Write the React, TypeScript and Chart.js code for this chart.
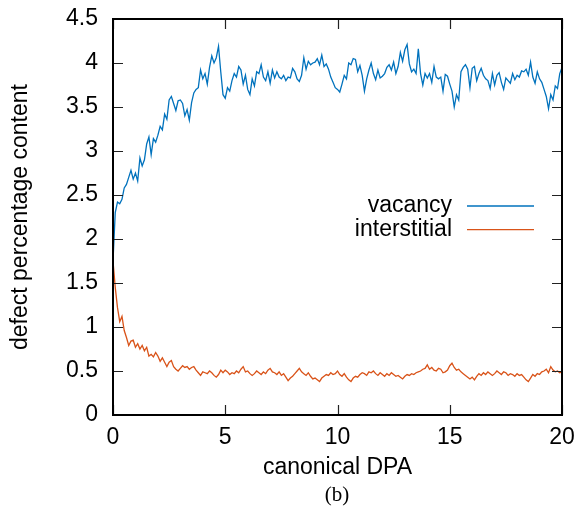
import React, { useEffect, useRef } from "react";
import { Chart, registerables } from "chart.js";

Chart.register(...registerables);

// sampling interval of the simulation output (canonical DPA)
const DPA_STEP = 0.1;

const SERIES_LABELS = ["vacancy", "interstitial"];
const SERIES_COLORS = ["#0072bd", "#d95319"];

const vacancy = [
  1.75, 2.30, 2.42, 2.40, 2.45, 2.58, 2.62, 2.70, 2.78, 2.68,
  2.75, 2.66, 2.92, 2.83, 2.90, 3.08, 3.16, 2.96, 3.14, 3.10,
  3.18, 3.28, 3.24, 3.42, 3.36, 3.58, 3.62, 3.54, 3.46, 3.57,
  3.58, 3.54, 3.40, 3.47, 3.35, 3.55, 3.66, 3.70, 3.72, 3.92,
  3.82, 3.88, 3.76, 3.95, 4.08, 4.00, 4.06, 4.19, 3.90, 3.64,
  3.60, 3.72, 3.68, 3.80, 3.88, 3.84, 3.96, 3.92, 3.76, 3.86,
  3.70, 3.64, 3.82, 3.74, 3.90, 3.88, 3.98, 3.84, 3.80, 3.90,
  3.77, 3.92, 3.83, 3.90, 3.84, 3.82, 3.86, 3.80, 3.84, 3.83,
  3.94, 3.90, 3.82, 3.79, 3.86, 4.06, 3.93, 4.02, 3.98, 4.00,
  4.01, 4.05, 3.98, 4.09, 3.96, 3.99, 3.93, 3.84, 3.78, 3.72,
  3.70, 3.67, 3.76, 3.86, 3.82, 4.00, 3.98, 4.05, 4.04, 3.90,
  3.97, 3.86, 3.68, 3.82, 3.92, 4.00, 3.88, 3.81, 3.92, 3.83,
  3.85, 3.88, 3.95, 3.98, 3.92, 4.01, 3.88, 3.96, 4.12, 4.02,
  4.15, 4.21, 3.99, 3.90, 3.93, 3.88, 4.16, 3.88, 3.75, 3.88,
  3.83, 3.88, 3.78, 3.96, 3.84, 3.82, 3.84, 3.68, 3.87, 3.85,
  3.76, 3.68, 3.50, 3.64, 3.58, 3.90, 3.95, 3.98, 3.93, 3.72,
  3.94, 3.96, 3.80, 3.88, 3.94, 3.86, 3.82, 3.80, 3.71, 3.88,
  3.75, 3.86, 3.89, 3.78, 3.70, 3.83, 3.80, 3.77, 3.88, 3.81,
  3.86, 3.84, 3.91, 3.90, 3.93, 3.86, 4.01, 3.84, 3.77, 3.90,
  3.82, 3.78, 3.70, 3.62, 3.48, 3.64, 3.58, 3.74, 3.71, 3.88,
  3.95,
];

const interstitial = [
  1.75, 1.45, 1.22, 1.06, 1.12, 0.96, 0.88, 0.79, 0.84, 0.85,
  0.77, 0.81, 0.75, 0.79, 0.73, 0.77, 0.67, 0.69, 0.66, 0.71,
  0.67, 0.61, 0.65, 0.60, 0.55, 0.60, 0.62, 0.55, 0.52, 0.50,
  0.53, 0.56, 0.54, 0.55, 0.52, 0.54, 0.55, 0.51, 0.48, 0.45,
  0.49, 0.48, 0.47, 0.50, 0.48, 0.45, 0.43, 0.46, 0.51, 0.48,
  0.51, 0.49, 0.46, 0.48, 0.47, 0.50, 0.48, 0.52, 0.55, 0.49,
  0.50, 0.47, 0.45, 0.47, 0.50, 0.48, 0.46, 0.49, 0.47, 0.51,
  0.53, 0.49, 0.48, 0.46, 0.49, 0.45, 0.47, 0.43, 0.39, 0.42,
  0.44, 0.47, 0.50, 0.53, 0.49, 0.47, 0.45, 0.48, 0.44, 0.41,
  0.42, 0.40, 0.38, 0.42, 0.44, 0.46, 0.45, 0.48, 0.46, 0.47,
  0.50, 0.46, 0.44, 0.47, 0.43, 0.40, 0.38, 0.42, 0.44, 0.43,
  0.46, 0.48, 0.47, 0.45, 0.49, 0.48, 0.50, 0.47, 0.45, 0.48,
  0.46, 0.44, 0.47, 0.45, 0.48, 0.46, 0.44, 0.45, 0.43, 0.41,
  0.44, 0.46, 0.45, 0.47, 0.46, 0.48, 0.49, 0.50, 0.52, 0.53,
  0.57, 0.52, 0.54, 0.51, 0.50, 0.53, 0.52, 0.48, 0.49, 0.51,
  0.56, 0.59, 0.54, 0.51, 0.52, 0.49, 0.47, 0.45, 0.43, 0.41,
  0.43, 0.40, 0.44, 0.47, 0.45, 0.48, 0.46, 0.49, 0.47, 0.45,
  0.47, 0.50, 0.48, 0.46, 0.49, 0.48, 0.45, 0.47, 0.46, 0.44,
  0.47, 0.45, 0.46, 0.43, 0.40, 0.38, 0.42, 0.46, 0.44, 0.47,
  0.46, 0.49, 0.50, 0.52, 0.48, 0.55, 0.51, 0.49, 0.50, 0.48,
  0.49,
];

const X_TICKS = [0, 5, 10, 15, 20];
const X_TICK_LABELS = ["0", "5", "10", "15", "20"];
const Y_TICKS = [0, 0.5, 1, 1.5, 2, 2.5, 3, 3.5, 4, 4.5];
const Y_TICK_LABELS = ["0", "0.5", "1", "1.5", "2", "2.5", "3", "3.5", "4", "4.5"];

const X_TITLE = "canonical DPA";
const Y_TITLE = "defect percentage content";
const CAPTION = "(b)";

const FONT = '"Liberation Sans", Arial, Helvetica, sans-serif';
const FS = 23;

const toPoints = (arr: number[]) => arr.map((v, i) => ({ x: i * DPA_STEP, y: v }));

const zeroPad = (s: any) => {
  s.paddingTop = 0;
  s.paddingBottom = 0;
  s.paddingLeft = 0;
  s.paddingRight = 0;
};

const framePlugin = {
  id: "frame",
  afterDatasetsDraw(chart: any) {
    const { ctx, chartArea } = chart;
    const xs = chart.scales.x;
    const ys = chart.scales.y;
    const { left, right, top, bottom } = chartArea;
    const tl = 10;
    ctx.save();
    ctx.strokeStyle = "#222";
    ctx.lineWidth = 1.2;
    ctx.beginPath();
    X_TICKS.forEach((t) => {
      const px = Math.round(xs.getPixelForValue(t)) + 0.5;
      ctx.moveTo(px, bottom);
      ctx.lineTo(px, bottom - tl);
      ctx.moveTo(px, top);
      ctx.lineTo(px, top + tl);
    });
    Y_TICKS.forEach((t) => {
      const py = Math.round(ys.getPixelForValue(t)) + 0.5;
      ctx.moveTo(left, py);
      ctx.lineTo(left + tl, py);
      ctx.moveTo(right, py);
      ctx.lineTo(right - tl, py);
    });
    ctx.stroke();
    ctx.strokeStyle = "#000";
    ctx.lineWidth = 2;
    ctx.strokeRect(left, top, right - left, bottom - top);

    // key
    ctx.font = `${FS}px ${FONT}`;
    ctx.fillStyle = "#000";
    ctx.textAlign = "right";
    ctx.textBaseline = "middle";
    const textRight = right - 110;
    const s0 = right - 95;
    const s1 = right - 28;
    SERIES_LABELS.forEach((lab, i) => {
      const y = top + 187 + i * 23.6;
      ctx.fillText(lab, textRight, y);
      ctx.strokeStyle = SERIES_COLORS[i];
      ctx.lineWidth = 1.3;
      ctx.beginPath();
      ctx.moveTo(s0, y);
      ctx.lineTo(s1, y);
      ctx.stroke();
    });
    ctx.restore();
  },
};

export default function App() {
  const ref = useRef<HTMLCanvasElement | null>(null);
  useEffect(() => {
    if (!ref.current) return;
    const chart = new Chart(ref.current, {
      type: "line",
      data: {
        datasets: [
          {
            label: SERIES_LABELS[0],
            data: toPoints(vacancy),
            borderColor: SERIES_COLORS[0],
            borderWidth: 1.3,
            pointRadius: 0,
            tension: 0,
          },
          {
            label: SERIES_LABELS[1],
            data: toPoints(interstitial),
            borderColor: SERIES_COLORS[1],
            borderWidth: 1.3,
            pointRadius: 0,
            tension: 0,
          },
        ],
      },
      options: {
        responsive: false,
        animation: false,
        layout: { padding: { top: 19, right: 18, left: 0, bottom: 0 } },
        plugins: { legend: { display: false }, tooltip: { enabled: false } },
        scales: {
          x: {
            type: "linear",
            min: 0,
            max: 20,
            afterBuildTicks: (s: any) => {
              s.ticks = X_TICKS.map((v) => ({ value: v }));
            },
            afterFit: (s: any) => {
              s.height = 103;
              zeroPad(s);
            },
            grid: { display: false, drawTicks: false },
            border: { display: false },
            ticks: {
              padding: 9,
              color: "#000",
              font: { family: FONT, size: FS },
              maxRotation: 0,
              callback: (v: any) => X_TICK_LABELS[X_TICKS.indexOf(Number(v))] ?? "",
            },
            title: {
              display: true,
              text: X_TITLE,
              color: "#000",
              font: { family: FONT, size: FS },
              padding: { top: 0, bottom: 37 },
            },
          },
          y: {
            type: "linear",
            min: 0,
            max: 4.5,
            afterBuildTicks: (s: any) => {
              s.ticks = Y_TICKS.map((v) => ({ value: v }));
            },
            afterFit: (s: any) => {
              s.width = 113;
              zeroPad(s);
            },
            grid: { display: false, drawTicks: false },
            border: { display: false },
            ticks: {
              padding: 15,
              color: "#000",
              font: { family: FONT, size: FS },
              callback: (v: any) => Y_TICK_LABELS[Y_TICKS.indexOf(Number(v))] ?? "",
            },
            title: {
              display: true,
              text: Y_TITLE,
              color: "#000",
              font: { family: FONT, size: FS },
              padding: { top: 7, bottom: 0 },
            },
          },
        },
      },
      plugins: [framePlugin],
    });
    return () => chart.destroy();
  }, []);

  return (
    <div style={{ position: "absolute", left: 0, top: 0, width: 580, height: 518, background: "#fff" }}>
      <canvas ref={ref} width={580} height={518} style={{ display: "block" }} />
      <div
        style={{
          position: "absolute",
          left: 237,
          width: 200,
          top: 483,
          textAlign: "center",
          fontFamily: '"Liberation Serif", "DejaVu Serif", serif',
          fontSize: 21,
          lineHeight: "22px",
          color: "#000",
        }}
      >
        {CAPTION}
      </div>
    </div>
  );
}
